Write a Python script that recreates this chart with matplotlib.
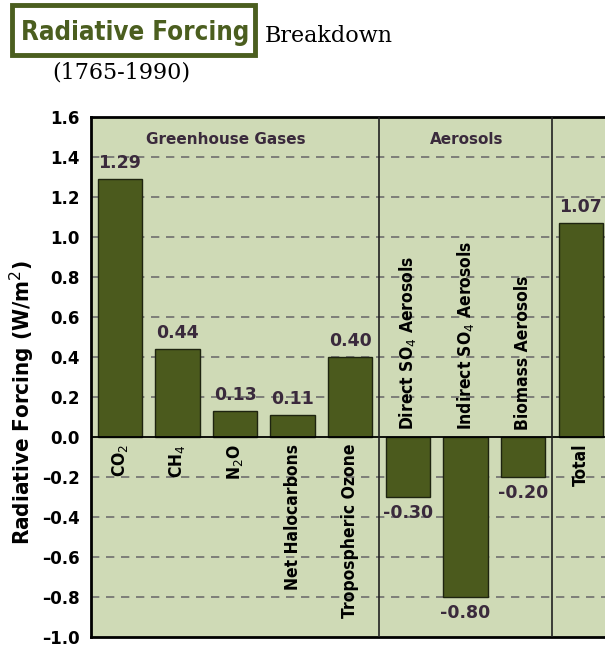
import matplotlib
matplotlib.use("Agg")
import matplotlib.pyplot as plt
from matplotlib.patches import Rectangle

categories = ["CO$_2$", "CH$_4$", "N$_2$O", "Net Halocarbons", "Tropospheric Ozone",
              "Direct SO$_4$ Aerosols", "Indirect SO$_4$ Aerosols", "Biomass Aerosols", "Total"]
values = [1.29, 0.44, 0.13, 0.11, 0.40, -0.30, -0.80, -0.20, 1.07]
value_labels = ["1.29", "0.44", "0.13", "0.11", "0.40", "-0.30", "-0.80", "-0.20", "1.07"]
yticks = [1.6, 1.4, 1.2, 1.0, 0.8, 0.6, 0.4, 0.2, 0.0, -0.2, -0.4, -0.6, -0.8, -1.0]
group_names = ["Greenhouse Gases", "Aerosols"]

W, H = 605, 645
fig = plt.figure(figsize=(W / 100, H / 100), dpi=100)
ax = fig.add_axes([91 / W, 1 - 637 / H, (W - 91) / W, (637 - 117) / H])

bg = "#cfdab6"
bar_c = "#4b5a1d"
lab_c = "#3a2a3c"
ax.set_facecolor(bg)

x = list(range(len(values)))
ax.set_xlim(-0.5, 8.42)
ax.set_ylim(-1.0, 1.6)

for t in yticks:
    if -1.0 < t < 1.6 and t != 0:
        ax.axhline(t, color="#6f6f6f", lw=1.2, ls=(0, (5, 4)), zorder=1)

ax.bar(x, values, width=0.77, color=bar_c, edgecolor="#1e2410", lw=1.0, zorder=3)
ax.axhline(0, color="black", lw=1.3, zorder=4)
for d in (4.5, 7.5):
    ax.axvline(d, color="#222222", lw=1.2, zorder=4)

cond = dict(family="DejaVu Sans", stretch="condensed")
for xi, v, s, c in zip(x, values, value_labels, categories):
    if v >= 0:
        ax.text(xi, v + 0.035, s, ha="center", va="bottom", fontsize=12.5,
                fontweight="bold", color=lab_c, zorder=5)
        ax.text(xi, -0.035, c, rotation=90, ha="center", va="top", fontsize=12.5,
                fontweight="bold", color="black", zorder=5, **cond)
    else:
        ax.text(xi, v - 0.035, s, ha="center", va="top", fontsize=12.5,
                fontweight="bold", color=lab_c, zorder=5)
        ax.text(xi, 0.035, c, rotation=90, ha="center", va="bottom", fontsize=12.5,
                fontweight="bold", color="black", zorder=5, **cond)

ax.text(1.84, 1.49, group_names[0], ha="center", va="center", fontsize=11,
        fontweight="bold", color=lab_c)
ax.text(6.02, 1.49, group_names[1], ha="center", va="center", fontsize=11,
        fontweight="bold", color=lab_c)

ax.set_yticks(yticks)
ax.set_yticklabels([f"{t:.1f}".replace("-", "\u2013") for t in yticks],
                   fontsize=12, fontweight="bold")
ax.tick_params(axis="y", length=0, pad=8)
ax.set_xticks([])
for s in ("left", "top", "bottom"):
    ax.spines[s].set_linewidth(2)
ax.spines["right"].set_visible(False)
ax.set_ylabel("Radiative Forcing (W/m$^2$)", fontsize=16, fontweight="bold", **cond)
ax.yaxis.set_label_coords(-0.105, 0.45)

# title block
fig.patches.append(Rectangle((12 / W, 1 - 55 / H), 243 / W, 50 / H, transform=fig.transFigure,
                             fill=False, edgecolor="#4b5e1f", lw=3.5))
fig.text(135 / W, 1 - 33 / H, "Radiative Forcing", ha="center", va="center", fontsize=18.5,
         fontweight="bold", color="#4b5e1f", **cond)
fig.text(265 / W, 1 - 36 / H, "Breakdown", ha="left", va="center", fontsize=16,
         family="DejaVu Serif", color="black")
fig.text(52 / W, 1 - 73 / H, "(1765-1990)", ha="left", va="center", fontsize=16,
         family="DejaVu Serif", color="black")

fig.savefig("out.png", dpi=100)
